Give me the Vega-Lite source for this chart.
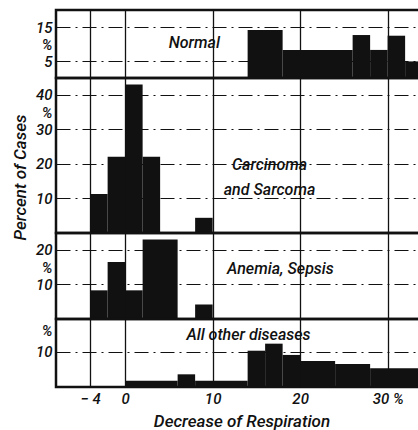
{
  "$schema": "https://vega.github.io/schema/vega-lite/v6.json",
  "background": "white",
  "padding": {"left": 9, "top": 8, "right": 0, "bottom": 0},
  "autosize": {"type": "pad"},
  "spacing": 0,
  "bounds": "flush",
  "config": {
    "font": "Roboto",
    "view": {"stroke": "#111", "strokeWidth": 2.5},
    "axis": {
      "domain": false,
      "ticks": false,
      "labelFont": "Roboto",
      "labelFontStyle": "italic",
      "labelFontWeight": 500,
      "labelFontSize": 15,
      "labelColor": "#111",
      "labelBound": false,
      "titleFont": "Roboto",
      "titleFontStyle": "italic",
      "titleFontWeight": 500,
      "titleFontSize": 17,
      "titleColor": "#111",
      "gridColor": "#111",
      "gridOpacity": 1
    },
    "axisY": {"labelPadding": 4, "gridDash": [14, 5, 2, 5], "gridWidth": 1.2, "labelOverlap": false},
    "axisX": {"gridWidth": 1.3, "gridDash": []},
    "text": {"font": "Roboto", "fontStyle": "italic", "fontSize": 16, "color": "#111"}
  },
  "datasets": {
    "bars": [
      {"panel": "Normal", "start": 14, "end": 18, "pct": 14.2},
      {"panel": "Normal", "start": 18, "end": 26, "pct": 8.3},
      {"panel": "Normal", "start": 26, "end": 28, "pct": 12.7},
      {"panel": "Normal", "start": 28, "end": 30, "pct": 8.3},
      {"panel": "Normal", "start": 30, "end": 32, "pct": 12.5},
      {"panel": "Normal", "start": 32, "end": 34.5, "pct": 4.9},
      {"panel": "Carcinoma", "start": -4, "end": -2, "pct": 11.3},
      {"panel": "Carcinoma", "start": -2, "end": 0, "pct": 22.1},
      {"panel": "Carcinoma", "start": 0, "end": 2, "pct": 43},
      {"panel": "Carcinoma", "start": 2, "end": 4, "pct": 22.1},
      {"panel": "Carcinoma", "start": 8, "end": 10, "pct": 4.4},
      {"panel": "Anemia", "start": -4, "end": -2, "pct": 8.3},
      {"panel": "Anemia", "start": -2, "end": 0, "pct": 16.5},
      {"panel": "Anemia", "start": 0, "end": 2, "pct": 8.3},
      {"panel": "Anemia", "start": 2, "end": 6, "pct": 23},
      {"panel": "Anemia", "start": 8, "end": 10, "pct": 4.2},
      {"panel": "Other", "start": 0, "end": 6, "pct": 1.8},
      {"panel": "Other", "start": 6, "end": 8, "pct": 3.6},
      {"panel": "Other", "start": 8, "end": 14, "pct": 1.8},
      {"panel": "Other", "start": 14, "end": 16, "pct": 10.3},
      {"panel": "Other", "start": 16, "end": 18, "pct": 12.3},
      {"panel": "Other", "start": 18, "end": 20, "pct": 9.1},
      {"panel": "Other", "start": 20, "end": 24, "pct": 7.4},
      {"panel": "Other", "start": 24, "end": 28, "pct": 6.5},
      {"panel": "Other", "start": 28, "end": 34.5, "pct": 5.3}
    ],
    "labels": [
      {"panel": "Normal", "x": 7.9, "y": 10.3, "label": "Normal"},
      {"panel": "Carcinoma", "x": 16.5, "y": 19.7, "label": "Carcinoma\nand Sarcoma"},
      {"panel": "Anemia", "x": 17.75, "y": 14.5, "label": "Anemia, Sepsis"},
      {"panel": "Other", "x": 14.1, "y": 14.7, "label": "All other diseases"}
    ]
  },
  "vconcat": [
    {
      "width": 371,
      "height": 68,
      "resolve": {"axis": {"y": "independent"}},
      "layer": [
        {
          "data": {"name": "bars"},
          "transform": [{"filter": "datum.panel === 'Normal'"}],
          "mark": {"type": "rect", "color": "#111", "clip": true},
          "encoding": {
            "x": {"field": "start", "type": "quantitative", "scale": {"domain": [-7.9, 34.5], "nice": false, "zero": false}, "axis": {"values": [-4, 0, 10, 20, 30], "tickCount": 20, "labels": false, "title": null, "grid": true}},
            "x2": {"field": "end"},
            "y": {"field": "pct", "type": "quantitative", "scale": {"domain": [0, 20.1], "nice": false}, "axis": {"values": [15, 5], "tickCount": 20, "title": null}},
            "y2": {"datum": 0}
          }
        },
        {
          "data": {"name": "labels"},
          "transform": [{"filter": "datum.panel === 'Normal'"}],
          "mark": {"type": "text", "fontWeight": 500, "align": "center", "baseline": "middle"},
          "encoding": {
            "x": {"field": "x", "type": "quantitative"},
            "y": {"field": "y", "type": "quantitative", "axis": {"orient": "left", "values": [10], "tickCount": 20, "labelExpr": "'%'", "grid": false, "title": null}},
            "text": {"field": "label"}
          }
        }
      ]
    },
    {
      "width": 371,
      "height": 155,
      "resolve": {"axis": {"y": "independent"}},
      "layer": [
        {
          "data": {"name": "bars"},
          "transform": [{"filter": "datum.panel === 'Carcinoma'"}],
          "mark": {"type": "rect", "color": "#111", "clip": true},
          "encoding": {
            "x": {"field": "start", "type": "quantitative", "scale": {"domain": [-7.9, 34.5], "nice": false, "zero": false}, "axis": {"values": [-4, 0, 10, 20, 30], "tickCount": 20, "labels": false, "title": null, "grid": true}},
            "x2": {"field": "end"},
            "y": {"field": "pct", "type": "quantitative", "scale": {"domain": [0, 44.9], "nice": false}, "axis": {"values": [40, 30, 20, 10], "tickCount": 20, "title": "Percent of Cases", "titleX": -36, "titleY": 99, "titleBaseline": "middle"}},
            "y2": {"datum": 0}
          }
        },
        {
          "data": {"name": "labels"},
          "transform": [{"filter": "datum.panel === 'Carcinoma'"}],
          "mark": {"type": "text", "fontWeight": 500, "align": "center", "baseline": "middle", "lineBreak": "\n", "lineHeight": 25},
          "encoding": {
            "x": {"field": "x", "type": "quantitative"},
            "y": {"field": "y", "type": "quantitative", "axis": {"orient": "left", "values": [35], "tickCount": 20, "labelExpr": "'%'", "grid": false, "title": null}},
            "text": {"field": "label"}
          }
        }
      ]
    },
    {
      "width": 371,
      "height": 86,
      "layer": [
        {
          "data": {"name": "bars"},
          "transform": [{"filter": "datum.panel === 'Anemia'"}],
          "mark": {"type": "rect", "color": "#111", "clip": true},
          "encoding": {
            "x": {"field": "start", "type": "quantitative", "scale": {"domain": [-7.9, 34.5], "nice": false, "zero": false}, "axis": {"values": [-4, 0, 10, 20, 30], "tickCount": 20, "labels": false, "title": null, "grid": true}},
            "x2": {"field": "end"},
            "y": {"field": "pct", "type": "quantitative", "scale": {"domain": [0, 24.9], "nice": false}, "axis": {"values": [20, 15, 10], "tickCount": 20, "title": null, "labelExpr": "datum.value == 15 ? '%' : datum.label", "gridOpacity": {"condition": {"test": "datum.value == 15", "value": 0}, "value": 1}}},
            "y2": {"datum": 0}
          }
        },
        {
          "data": {"name": "labels"},
          "transform": [{"filter": "datum.panel === 'Anemia'"}],
          "mark": {"type": "text", "fontWeight": 500, "align": "center", "baseline": "middle"},
          "encoding": {
            "x": {"field": "x", "type": "quantitative"},
            "y": {"field": "y", "type": "quantitative"},
            "text": {"field": "label"}
          }
        }
      ]
    },
    {
      "width": 371,
      "height": 68,
      "layer": [
        {
          "data": {"name": "bars"},
          "transform": [{"filter": "datum.panel === 'Other'"}],
          "mark": {"type": "rect", "color": "#111", "clip": true},
          "encoding": {
            "x": {"field": "start", "type": "quantitative", "scale": {"domain": [-7.9, 34.5], "nice": false, "zero": false}, "axis": {"values": [-4, 0, 10, 20, 30], "tickCount": 20, "title": "Decrease of Respiration", "titlePadding": 7, "labelPadding": 4, "labelExpr": "datum.value == 30 ? '30 %' : (datum.value == -4 ? '− 4' : datum.label)", "grid": true}},
            "x2": {"field": "end"},
            "y": {"field": "pct", "type": "quantitative", "scale": {"domain": [0, 19.3], "nice": false}, "axis": {"values": [16, 10], "tickCount": 20, "title": null, "labelExpr": "datum.value == 16 ? '%' : datum.label", "gridOpacity": {"condition": {"test": "datum.value == 16", "value": 0}, "value": 1}}},
            "y2": {"datum": 0}
          }
        },
        {
          "data": {"name": "labels"},
          "transform": [{"filter": "datum.panel === 'Other'"}],
          "mark": {"type": "text", "fontWeight": 500, "align": "center", "baseline": "middle"},
          "encoding": {
            "x": {"field": "x", "type": "quantitative"},
            "y": {"field": "y", "type": "quantitative"},
            "text": {"field": "label"}
          }
        }
      ]
    }
  ]
}
